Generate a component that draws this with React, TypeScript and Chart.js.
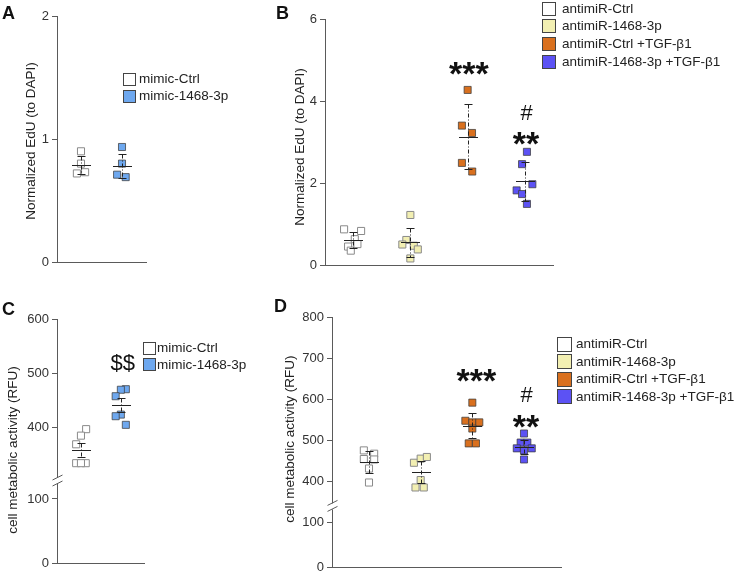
import React, { useEffect, useRef } from 'react';
import { Chart, registerables } from 'chart.js';

Chart.register(...registerables);

const FONT = '"Liberation Sans", Arial, Helvetica, sans-serif';
const AXIS = '#5a5a5a';
const INK = '#222222';

// ---------- colours ----------
const cWhite = '#ffffff';
const cMimicBlue = '#6ea8ef';
const cYellow = '#f2efb2';
const cOrange = '#d9701e';
const cViolet = '#5c52f4';

// ---------- Panel A : Normalized EdU, mimic ----------
const aGroupLabels = ['mimic-Ctrl', 'mimic-1468-3p'];
const aCtrl = [0.9, 0.8, 0.72, 0.73];
const aCtrlJitter = [0, 0, -0.1, 0.1];
const aMimic = [0.935, 0.8, 0.71, 0.69];
const aMimicJitter = [0, 0, -0.12, 0.09];
const aMean = [0.79, 0.78];
const aErr = [0.075, 0.1];
const aTicks = [0, 1, 2];

// ---------- Panel B : Normalized EdU, antimiR ----------
const bGroupLabels = ['antimiR-Ctrl', 'antimiR-1468-3p', 'antimiR-Ctrl +TGF-β1', 'antimiR-1468-3p +TGF-β1'];
const bCtrl = [0.87, 0.83, 0.63, 0.51, 0.45, 0.35];
const bCtrlJitter = [-0.157, 0.14, 0.03, 0.076, -0.087, -0.04];
const bAnti = [1.22, 0.61, 0.5, 0.47, 0.38, 0.16];
const bAntiJitter = [0, -0.07, -0.14, 0.06, 0.13, 0];
const bCtrlTgf = [4.27, 3.4, 3.22, 2.49, 2.28];
const bCtrlTgfJitter = [0, -0.1, 0.076, -0.1, 0.08];
const bAntiTgf = [2.76, 2.46, 1.97, 1.82, 1.73, 1.49];
const bAntiTgfJitter = [0.035, -0.05, 0.13, -0.145, -0.05, 0.035];
const bMean = [0.61, 0.55, 3.13, 2.04];
const bErr = [0.19, 0.36, 0.79, 0.48];
const bTicks = [0, 2, 4, 6];
const bSigText = ['***', '#', '**'];
const bSigGroup = [3.02, 4.03, 4.02];
const bSigLevel = [4.4, 3.54, 2.69];
const bSigSize = [34, 22, 34];

// ---------- Panel C : metabolic activity, mimic ----------
const cCtrl = [396, 384, 368, 333, 333, 333];
const cCtrlJitter = [0.13, 0, -0.12, -0.12, 0.12, 0];
const cMimic = [470, 469, 457, 423, 420, 404];
const cMimicJitter = [0.125, 0, -0.13, 0, -0.13, 0.125];
const cMean = [358, 440];
const cErr = [13, 13];
const cUpperTicks = [400, 500, 600];
const cLowerTicks = [0, 100];
const cSigText = ['$$'];
const cSigGroup = [2.05];
const cSigLevel = [505];
const cSigSize = [22];

// ---------- Panel D : metabolic activity, antimiR ----------
const dCtrl = [476, 468, 455, 454, 432, 398];
const dCtrlJitter = [-0.1, 0.1, -0.1, 0.1, 0, 0];
const dAnti = [446, 456, 460, 404, 386, 386];
const dAntiJitter = [-0.13, 0, 0.12, 0, -0.1, 0.06];
const dCtrlTgf = [592, 548, 544, 544, 529, 493, 493];
const dCtrlTgfJitter = [0, -0.135, 0, 0.135, 0, -0.07, 0.07];
const dAntiTgf = [517, 495, 495, 481, 481, 476, 454];
const dAntiTgfJitter = [0, -0.065, 0.065, -0.14, 0.15, 0, 0];
const dMean = [448, 423, 536, 484];
const dErr = [27, 27, 30, 17];
const dUpperTicks = [400, 500, 600, 700, 800];
const dLowerTicks = [0, 100];
const dSigText = ['***', '#', '**'];
const dSigGroup = [3.08, 4.05, 4.04];
const dSigLevel = [619, 594, 506];
const dSigSize = [34, 22, 34];

// ---------- types ----------
type Group = { values: number[]; jitter: number[]; color: string; border: string };
type Note = { text: string; x: number; y: number; size: number; bold: boolean };
type PanelCfg = {
  left: number; top: number; width: number; height: number;
  pad: { top: number; right: number; bottom: number; left: number };
  axisWidth: number;
  xMin: number; xMax: number;
  upper: { min: number; max: number; ticks: number[]; weight: number };
  lower?: { min: number; max: number; ticks: number[]; weight: number };
  groups: Group[]; means: number[]; errs: number[];
  title: string; titleOffset: number; titleShift: number;
  notes: Note[];
};

const notesOf = (t: string[], g: number[], l: number[], s: number[]): Note[] =>
  t.map((text, i) => ({ text, x: g[i], y: l[i], size: s[i], bold: text.includes('*') }));

const GRAY_BORDER = '#8a8a8a';
const DARK_BORDER = 'rgba(60,60,60,0.75)';

const panelA: PanelCfg = {
  left: 0, top: 0, width: 270, height: 290,
  pad: { top: 16, right: 124, bottom: 27, left: 0 }, axisWidth: 57,
  xMin: 0.415, xMax: 2.585,
  upper: { min: 0, max: 2, ticks: aTicks, weight: 1 },
  groups: [
    { values: aCtrl, jitter: aCtrlJitter, color: cWhite, border: GRAY_BORDER },
    { values: aMimic, jitter: aMimicJitter, color: cMimicBlue, border: DARK_BORDER },
  ],
  means: aMean, errs: aErr,
  title: 'Normalized EdU (to DAPI)', titleOffset: 26, titleShift: 2,
  notes: [],
};

const panelB: PanelCfg = {
  left: 270, top: 0, width: 470, height: 290,
  pad: { top: 19, right: 187, bottom: 24, left: 0 }, axisWidth: 55,
  xMin: 0.51, xMax: 4.49,
  upper: { min: 0, max: 6, ticks: bTicks, weight: 1 },
  groups: [
    { values: bCtrl, jitter: bCtrlJitter, color: cWhite, border: GRAY_BORDER },
    { values: bAnti, jitter: bAntiJitter, color: cYellow, border: GRAY_BORDER },
    { values: bCtrlTgf, jitter: bCtrlTgfJitter, color: cOrange, border: DARK_BORDER },
    { values: bAntiTgf, jitter: bAntiTgfJitter, color: cViolet, border: DARK_BORDER },
  ],
  means: bMean, errs: bErr,
  title: 'Normalized EdU (to DAPI)', titleOffset: 25, titleShift: 5,
  notes: notesOf(bSigText, bSigGroup, bSigLevel, bSigSize),
};

const panelC: PanelCfg = {
  left: 0, top: 290, width: 270, height: 288,
  pad: { top: 29, right: 126, bottom: 14, left: 0 }, axisWidth: 57,
  xMin: 0.4, xMax: 2.58,
  upper: { min: 300, max: 600, ticks: cUpperTicks, weight: 162 },
  lower: { min: 0, max: 128, ticks: cLowerTicks, weight: 82 },
  groups: [
    { values: cCtrl, jitter: cCtrlJitter, color: cWhite, border: GRAY_BORDER },
    { values: cMimic, jitter: cMimicJitter, color: cMimicBlue, border: DARK_BORDER },
  ],
  means: cMean, errs: cErr,
  title: 'cell metabolic activity (RFU)', titleOffset: 44, titleShift: 9,
  notes: notesOf(cSigText, cSigGroup, cSigLevel, cSigSize),
};

const panelD: PanelCfg = {
  left: 270, top: 290, width: 470, height: 288,
  pad: { top: 27, right: 179, bottom: 9, left: 0 }, axisWidth: 62,
  xMin: 0.284, xMax: 4.716,
  upper: { min: 340, max: 800, ticks: dUpperTicks, weight: 190 },
  lower: { min: 0, max: 135, ticks: dLowerTicks, weight: 61 },
  groups: [
    { values: dCtrl, jitter: dCtrlJitter, color: cWhite, border: GRAY_BORDER },
    { values: dAnti, jitter: dAntiJitter, color: cYellow, border: GRAY_BORDER },
    { values: dCtrlTgf, jitter: dCtrlTgfJitter, color: cOrange, border: DARK_BORDER },
    { values: dAntiTgf, jitter: dAntiTgfJitter, color: cViolet, border: DARK_BORDER },
  ],
  means: dMean, errs: dErr,
  title: 'cell metabolic activity (RFU)', titleOffset: 42, titleShift: -3,
  notes: notesOf(dSigText, dSigGroup, dSigLevel, dSigSize),
};

function yScale(cfg: PanelCfg, s: { min: number; max: number; ticks: number[]; weight: number }, stacked: boolean) {
  const o: any = {
    type: 'linear',
    position: 'left',
    min: s.min,
    max: s.max,
    afterBuildTicks: (sc: any) => {
      sc.ticks = s.ticks.map((v) => ({ value: v }));
    },
    ticks: {
      color: '#333',
      font: { family: FONT, size: 13 },
      padding: 3,
      callback: (v: any) => String(v),
    },
    grid: { display: true, drawOnChartArea: false, drawTicks: true, tickLength: 5, color: AXIS, lineWidth: 1 },
    border: { display: true, color: AXIS, width: 1 },
    afterFit: (sc: any) => {
      sc.width = cfg.axisWidth;
    },
  };
  if (stacked) {
    o.stack = 'ys';
    o.stackWeight = s.weight;
  }
  return o;
}

function ChartPanel({ cfg }: { cfg: PanelCfg }) {
  const ref = useRef<HTMLCanvasElement | null>(null);
  useEffect(() => {
    if (!ref.current) return;
    const scales: any = {
      x: {
        type: 'linear',
        min: cfg.xMin,
        max: cfg.xMax,
        ticks: { display: false },
        grid: { display: false },
        border: { display: true, color: AXIS, width: 1 },
        afterFit: (sc: any) => {
          sc.height = 1;
        },
      },
    };
    if (cfg.lower) scales.yLow = yScale(cfg, cfg.lower, true);
    scales.y = yScale(cfg, cfg.upper, !!cfg.lower);

    const line = (ctx: CanvasRenderingContext2D, x1: number, y1: number, x2: number, y2: number) => {
      ctx.beginPath();
      ctx.moveTo(x1, y1);
      ctx.lineTo(x2, y2);
      ctx.stroke();
    };

    const decor = {
      id: 'decor',
      afterDatasetsDraw(chart: any) {
        const ctx: CanvasRenderingContext2D = chart.ctx;
        const xs = chart.scales.x;
        const ys = chart.scales.y;
        ctx.save();
        ctx.strokeStyle = INK;
        cfg.means.forEach((m, i) => {
          const cx = Math.round(xs.getPixelForValue(i + 1)) + 0.5;
          const my = Math.round(ys.getPixelForValue(m)) + 0.5;
          const ty = Math.round(ys.getPixelForValue(m + cfg.errs[i])) + 0.5;
          const by = Math.round(ys.getPixelForValue(m - cfg.errs[i])) + 0.5;
          ctx.lineWidth = 1;
          ctx.setLineDash([4, 2, 1, 2]);
          line(ctx, cx, ty, cx, by);
          ctx.setLineDash([]);
          line(ctx, cx - 4, ty, cx + 4, ty);
          line(ctx, cx - 4, by, cx + 4, by);
          line(ctx, cx - 9.5, my, cx + 9.5, my);
        });
        ctx.restore();
      },
      afterDraw(chart: any) {
        const ctx: CanvasRenderingContext2D = chart.ctx;
        const ca = chart.chartArea;
        const xs = chart.scales.x;
        const ys = chart.scales.y;
        ctx.save();
        // axis title
        ctx.translate(ca.left - cfg.titleOffset, (ca.top + ca.bottom) / 2 + cfg.titleShift);
        ctx.rotate(-Math.PI / 2);
        ctx.font = `13.5px ${FONT}`;
        ctx.fillStyle = INK;
        ctx.textAlign = 'center';
        ctx.textBaseline = 'middle';
        ctx.fillText(cfg.title, 0, 0);
        ctx.restore();

        // significance marks
        ctx.save();
        ctx.fillStyle = '#111';
        ctx.textAlign = 'center';
        ctx.textBaseline = 'alphabetic';
        cfg.notes.forEach((n) => {
          ctx.font = `${n.bold ? 'bold ' : ''}${n.size}px ${FONT}`;
          ctx.fillText(n.text, xs.getPixelForValue(n.x), ys.getPixelForValue(n.y));
        });
        ctx.restore();

        // axis break
        if (cfg.lower) {
          const b = ys.bottom;
          const ax = Math.round(ca.left) + 0.5;
          ctx.save();
          ctx.fillStyle = '#fff';
          ctx.fillRect(ax - 1.5, b - 3, 3, 6);
          ctx.strokeStyle = AXIS;
          ctx.lineWidth = 1;
          line(ctx, ax - 5, b - 1, ax + 5, b - 6);
          line(ctx, ax - 5, b + 5, ax + 5, b);
          ctx.restore();
        }
      },
    };

    const chart = new Chart(ref.current, {
      type: 'scatter',
      data: {
        datasets: cfg.groups.map((g, gi) => ({
          data: g.values.map((v, i) => ({ x: gi + 1 + g.jitter[i], y: v })),
          xAxisID: 'x',
          yAxisID: 'y',
          pointStyle: 'rect',
          pointRadius: 5,
          pointHoverRadius: 5,
          backgroundColor: g.color,
          borderColor: g.border,
          borderWidth: 1,
          showLine: false,
        })),
      },
      options: {
        animation: false,
        responsive: false,
        maintainAspectRatio: false,
        events: [],
        layout: { padding: cfg.pad },
        scales,
        plugins: {
          legend: { display: false },
          tooltip: { enabled: false },
        },
      } as any,
      plugins: [decor as any],
    });
    return () => chart.destroy();
  }, [cfg]);
  return (
    <canvas
      ref={ref}
      width={cfg.width}
      height={cfg.height}
      style={{ position: 'absolute', left: cfg.left, top: cfg.top, width: cfg.width, height: cfg.height }}
    />
  );
}

function Legend({ labels, colors, left, textLeft, firstCenter, spacing, box }: {
  labels: string[]; colors: string[]; left: number; textLeft: number; firstCenter: number; spacing: number; box: number;
}) {
  return (
    <>
      {labels.map((l, i) => {
        const cy = firstCenter + i * spacing;
        return (
          <div key={l} style={{ position: 'absolute', left, top: cy - 9, height: 18, display: 'flex', alignItems: 'center', whiteSpace: 'nowrap' }}>
            <div style={{ width: box, height: box, boxSizing: 'border-box', border: '1px solid #444', background: colors[i] }} />
            <div style={{ marginLeft: textLeft - left - box, fontSize: 13.5, color: INK, lineHeight: '18px' }}>{l}</div>
          </div>
        );
      })}
    </>
  );
}

function Letter({ text, left, top }: { text: string; left: number; top: number }) {
  return (
    <div style={{ position: 'absolute', left, top, fontSize: 18, fontWeight: 'bold', lineHeight: '18px', color: '#111' }}>{text}</div>
  );
}

export default function App() {
  const mimicColors = [cWhite, cMimicBlue];
  const antiColors = [cWhite, cYellow, cOrange, cViolet];
  return (
    <div style={{ position: 'fixed', left: 0, top: 0, width: 740, height: 578, background: '#fff', fontFamily: FONT, overflow: 'hidden' }}>
      <ChartPanel cfg={panelA} />
      <ChartPanel cfg={panelB} />
      <ChartPanel cfg={panelC} />
      <ChartPanel cfg={panelD} />
      <Legend labels={aGroupLabels} colors={mimicColors} left={123} textLeft={139} firstCenter={79} spacing={17} box={13} />
      <Legend labels={bGroupLabels} colors={antiColors} left={542} textLeft={562} firstCenter={8.5} spacing={17.7} box={14} />
      <Legend labels={aGroupLabels} colors={mimicColors} left={143} textLeft={157} firstCenter={348} spacing={16.5} box={13} />
      <Legend labels={bGroupLabels} colors={antiColors} left={557} textLeft={576} firstCenter={344} spacing={17.6} box={15} />
      <Letter text="A" left={2} top={4} />
      <Letter text="B" left={276} top={4} />
      <Letter text="C" left={2} top={300} />
      <Letter text="D" left={274} top={297} />
    </div>
  );
}
